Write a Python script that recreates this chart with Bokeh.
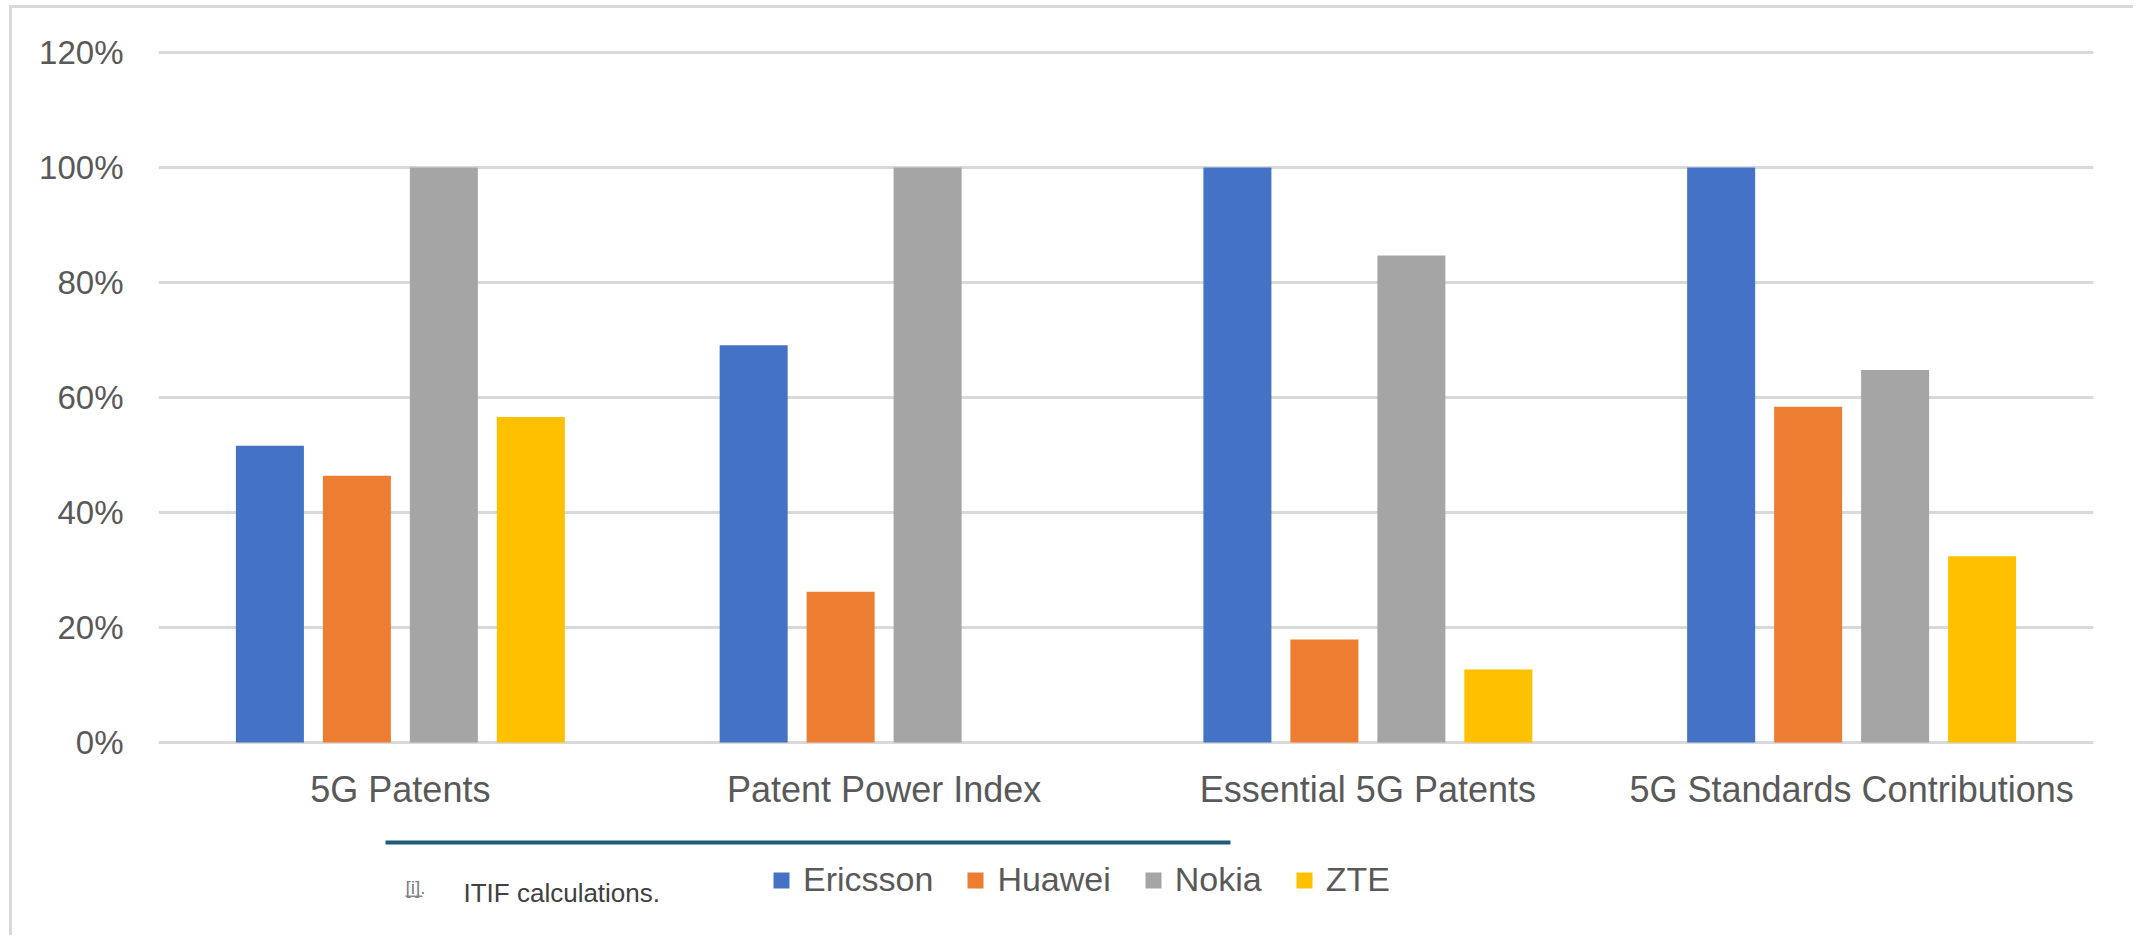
from bokeh.plotting import figure
from bokeh.models import (ColumnDataSource, FactorRange, Range1d, FixedTicker,
                          NumeralTickFormatter, Legend, Label, BoxAnnotation)
from bokeh.transform import dodge
from bokeh.embed import file_html
from bokeh.resources import INLINE

# ---- data -------------------------------------------------------------
categories = ["5G Patents", "Patent Power Index", "Essential 5G Patents",
              "5G Standards Contributions"]
ericsson = [0.516, 0.691, 1.00, 1.00]
huawei = [0.464, 0.262, 0.179, 0.584]
nokia = [1.00, 1.00, 0.847, 0.648]
zte = [0.566, 0.0, 0.127, 0.324]
series_names = ["Ericsson", "Huawei", "Nokia", "ZTE"]
series_colors = ["#4472C4", "#ED7D31", "#A5A5A5", "#FFC000"]
y_ticks = [0, 0.2, 0.4, 0.6, 0.8, 1.0, 1.2]
footnote = "ITIF calculations."
footnote_mark = "[i]."

src = ColumnDataSource(dict(cat=categories, Ericsson=ericsson, Huawei=huawei,
                            Nokia=nokia, ZTE=zte))

FONT = "Liberation Sans"
PAGE_W, PAGE_H = 2136, 938
OX, OY = 12, 8                      # canvas origin on page (after CSS border)
W, H = PAGE_W - OX, PAGE_H - OY
FL, FR = 158, 2093                  # frame left / right on page
ZERO_Y = 742                        # page y of 0%
PX_PER_UNIT = 575.0                 # px per 100%

y_start = -(PAGE_H - ZERO_Y) / PX_PER_UNIT
y_end = (ZERO_Y - OY) / PX_PER_UNIT

p = figure(width=W, height=H, x_range=FactorRange(*categories, range_padding=0),
           y_range=Range1d(y_start, y_end), output_backend="svg",
           toolbar_location=None,
           min_border_left=FL - OX, min_border_right=PAGE_W - FR,
           min_border_top=0, min_border_bottom=0)
p.styles = {"margin-left": "9px", "margin-top": "5px",
            "border-left": "3px solid #D9D9D9", "border-top": "3px solid #D9D9D9"}
p.outline_line_color = None
p.background_fill_color = "white"
p.border_fill_color = "white"

step = 0.1798
bw = 0.1406
offsets = [-1.5 * step, -0.5 * step, 0.5 * step, 1.5 * step]
renderers = []
for name, col, off in zip(series_names, series_colors, offsets):
    r = p.vbar(x=dodge("cat", off, range=p.x_range), top=name, width=bw,
               source=src, fill_color=col, line_color=None)
    renderers.append((name, [r]))

# axes
p.yaxis.ticker = FixedTicker(ticks=y_ticks)
p.yaxis.formatter = NumeralTickFormatter(format="0%")
for ax in (p.xaxis, p.yaxis):
    ax.axis_line_color = None
    ax.major_tick_line_color = None
    ax.minor_tick_line_color = None
    ax.major_tick_in = 0
    ax.major_tick_out = 0
    ax.major_label_text_font = FONT
    ax.major_label_text_color = "#595959"
p.yaxis.major_label_text_font_size = "33px"
p.yaxis.major_label_standoff = 35
p.xaxis.fixed_location = 0
p.xaxis.major_label_text_font_size = "36px"
p.xaxis.major_label_standoff = 26

p.xgrid.grid_line_color = None
p.ygrid.grid_line_color = "#D9D9D9"
p.ygrid.grid_line_width = 3

# screen helpers (relative to frame bottom-left, frame bottom = page bottom)
def sx(px):
    return px - FL

def sy(py):
    return PAGE_H - py

# legend
legend = Legend(items=renderers, orientation="horizontal",
                location=(sx(771), sy(899)),
                label_text_font=FONT, label_text_font_size="34px",
                label_text_color="#595959", glyph_width=20, glyph_height=20,
                label_standoff=12, spacing=32, padding=0, margin=0,
                border_line_color=None, background_fill_alpha=0)
p.add_layout(legend, "center")

def screen_box(l, r, t, b, color):
    return BoxAnnotation(left=sx(l), right=sx(r), top=sy(t), bottom=sy(b),
                         left_units="screen", right_units="screen",
                         top_units="screen", bottom_units="screen",
                         fill_color=color, fill_alpha=1, line_color=None)

# rule above the source note
p.add_layout(screen_box(385, 1230, 840, 844, "#1F5B7B"))
# underline of the note marker
p.add_layout(screen_box(405, 422, 895, 896.5, "#8C8C8C"))

p.add_layout(Label(x=sx(463), y=sy(892), x_units="screen", y_units="screen",
                   text=footnote, text_font=FONT, text_font_size="26px",
                   text_color="#404040", text_baseline="middle"))
p.add_layout(Label(x=sx(405), y=sy(887), x_units="screen", y_units="screen",
                   text=footnote_mark, text_font=FONT, text_font_size="19px",
                   text_color="#7F7F7F", text_baseline="middle"))

open("out.html", "w").write(file_html(p, INLINE))
